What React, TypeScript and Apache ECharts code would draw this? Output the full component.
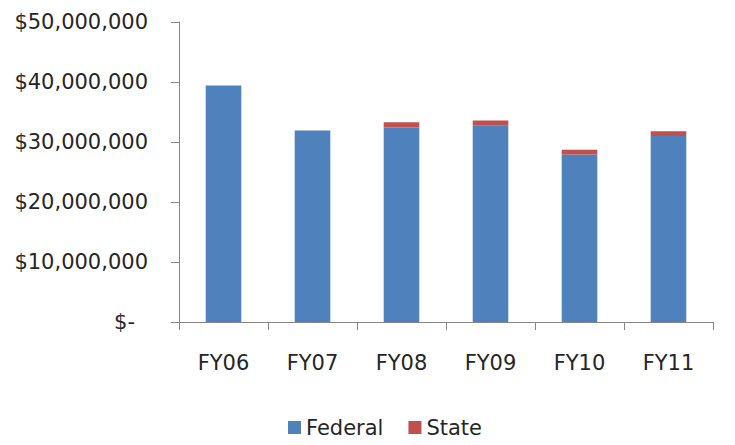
import React, { useEffect, useRef } from "react";
import * as echarts from "echarts";

const categories = ["FY06", "FY07", "FY08", "FY09", "FY10", "FY11"];
const federal = [39400000, 31900000, 32400000, 32700000, 27900000, 31000000];
const state = [0, 0, 900000, 900000, 800000, 800000];
const yTicks = [0, 10000000, 20000000, 30000000, 40000000, 50000000];

function fmt(v: number): string {
  if (v === 0) return "{z|$-}";
  return "$" + v.toLocaleString("en-US");
}

export default function App() {
  const ref = useRef<HTMLDivElement>(null);
  useEffect(() => {
    if (!ref.current) return;
    const chart = echarts.init(ref.current, undefined, { renderer: "svg" });
    const font = "'DejaVu Sans', sans-serif";
    const color = "#262626";
    chart.setOption({
      animation: false,
      textStyle: { fontFamily: font },
      grid: { left: 179, right: 22, top: 22, bottom: 123, containLabel: false },
      legend: {
        bottom: 2,
        left: 283,
        icon: "rect",
        itemWidth: 13,
        itemHeight: 13,
        itemGap: 25,
        textStyle: { fontSize: 21, color, fontFamily: font },
        data: ["Federal", "State"],
      },
      xAxis: {
        type: "category",
        data: categories,
        axisLine: { lineStyle: { color: "#868686" } },
        axisTick: { show: true, length: 8, lineStyle: { color: "#868686" } },
        axisLabel: { fontSize: 21, color, margin: 30, fontFamily: font },
      },
      yAxis: {
        type: "value",
        min: yTicks[0],
        max: yTicks[yTicks.length - 1],
        interval: 10000000,
        axisLine: { show: true, lineStyle: { color: "#868686" } },
        axisTick: { show: true, length: 8, lineStyle: { color: "#868686" } },
        splitLine: { show: false },
        axisLabel: {
          fontSize: 21,
          color,
          margin: 31,
          fontFamily: font,
          formatter: (v: number) => fmt(v),
          rich: { z: { fontSize: 21, color, fontFamily: font, padding: [0, 13, 0, 0] } },
        },
      },
      series: [
        {
          name: "Federal",
          type: "bar",
          stack: "total",
          data: federal,
          barWidth: "40%",
          itemStyle: { color: "#4F81BD" },
        },
        {
          name: "State",
          type: "bar",
          stack: "total",
          data: state,
          barWidth: "40%",
          itemStyle: { color: "#C0504D" },
        },
      ],
    });
    return () => chart.dispose();
  }, []);
  return <div ref={ref} style={{ width: 735, height: 445, position: "absolute", left: 0, top: 0 }} />;
}
